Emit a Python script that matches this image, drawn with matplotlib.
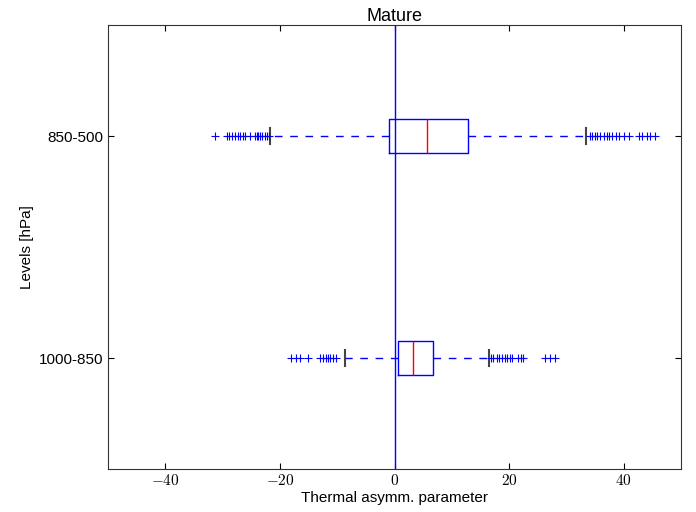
import matplotlib
matplotlib.use('Agg')
import matplotlib.pyplot as plt

plt.rcParams['font.family'] = ['Liberation Sans', 'DejaVu Sans']
plt.rcParams['mathtext.fontset'] = 'cm'

# ---- data ----
levels = ['1000-850', '850-500']
positions = [1, 2]

q1 = [0.6, -0.9]
med = [3.3, 5.7]
q3 = [6.8, 12.9]
whislo = [-8.7, -21.7]
whishi = [16.4, 33.5]
fliers_low = [
    [-18.0, -17.2, -16.5, -15.1, -13.0, -12.5, -12.0, -11.6, -11.2, -10.7, -10.3],
    [-31.3, -29.3, -28.8, -28.3, -27.8, -27.4, -27.0, -26.5, -26.1, -25.3,
     -24.3, -24.0, -23.8, -23.5, -23.2, -22.6, -22.3, -21.9],
]
fliers_high = [
    [16.8, 17.1, 17.8, 18.3, 18.8, 19.3, 19.7, 20.1, 20.5, 21.6, 22.0, 22.4,
     26.3, 27.2, 28.0],
    [34.2, 34.5, 34.9, 35.4, 35.9, 36.5, 37.1, 37.4, 38.0, 38.6, 39.1, 40.0,
     40.9, 42.6, 43.2, 44.1, 44.6, 45.4],
]
xticks = [-40, -20, 0, 20, 40]
xticklabels = [r'$-40$', r'$-20$', r'$0$', r'$20$', r'$40$']

stats = []
for i in range(len(levels)):
    stats.append({
        'med': med[i], 'q1': q1[i], 'q3': q3[i],
        'whislo': whislo[i], 'whishi': whishi[i],
        'fliers': fliers_low[i] + fliers_high[i],
    })

fig = plt.figure(figsize=(6.96, 5.12), dpi=100)
ax = fig.add_axes([0.1552, 0.084, 0.8233, 0.867])

ax.bxp(stats, positions=positions, widths=0.15, vert=False,
       boxprops=dict(color='b', linewidth=1.0),
       whiskerprops=dict(color='b', linestyle='--', linewidth=1.0, dashes=(5.5, 5.5)),
       capprops=dict(color='#444444', linewidth=1.5),
       medianprops=dict(color='r', linewidth=1.0),
       flierprops=dict(marker='+', markeredgecolor='b', markersize=6,
                       linestyle='none', markeredgewidth=0.8))
ax.axvline(0, color='b', linewidth=1.0)

ax.set_xlim(-50, 50)
ax.set_ylim(0.5, 2.5)
ax.set_xticks(xticks)
ax.set_xticklabels(xticklabels, fontsize=11)
ax.set_yticks(positions)
ax.set_yticklabels(levels, fontsize=11)
ax.tick_params(direction='in', length=4, top=True, right=True, pad=3)
for sp in ax.spines.values():
    sp.set_color('#333333')
ax.set_xlabel('Thermal asymm. parameter', fontsize=11, labelpad=2)
ax.set_ylabel('Levels [hPa]', fontsize=11)
ax.set_title('Mature', fontsize=13, pad=3)

fig.savefig('out.png', dpi=100)
